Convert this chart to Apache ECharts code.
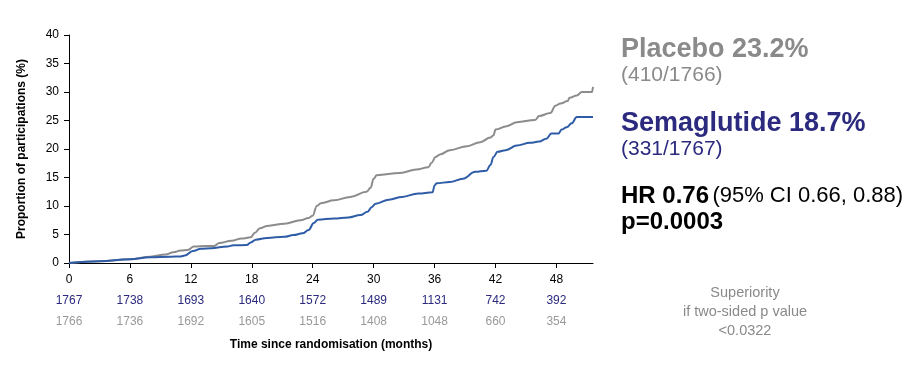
<!DOCTYPE html>
<html>
<head>
<meta charset="utf-8">
<script src="https://cdn.jsdelivr.net/npm/echarts@6/dist/echarts.min.js"></script>
<style>
  html, body { margin: 0; padding: 0; background: #fff; }
  #chart { width: 922px; height: 378px; }
</style>
</head>
<body>
<div id="chart"></div>
<script>
// ---- Data ----
var tickMonths = [0, 6, 12, 18, 24, 30, 36, 42, 48];
var semaAtRisk = [1767, 1738, 1693, 1640, 1572, 1489, 1131, 742, 392];
var placeboAtRisk = [1766, 1736, 1692, 1605, 1516, 1408, 1048, 660, 354];

var placeboMonths = [0, 3, 6, 8, 9.5, 10.3, 11, 11.7, 12.3, 13.5, 14.3, 14.8, 16, 17, 17.9, 18.3, 18.8, 19.5, 21.2, 22.8, 23.6, 24.0, 24.4, 24.8, 26.1, 27.7, 29.3, 29.7, 30.0, 30.3, 32.6, 34.2, 35.4, 35.7, 36.1, 36.6, 37.5, 39.2, 40.5, 41.5, 41.8, 42.0, 43.1, 44.1, 45.9, 46.3, 47.4, 47.9, 48.4, 49.1, 49.3, 50.0, 50.5, 51.5, 51.6];
var placeboValues = [0, 0.3, 0.65, 1.1, 1.5, 1.9, 2.2, 2.3, 2.9, 3.0, 3.0, 3.5, 3.9, 4.3, 4.5, 5.3, 6.1, 6.5, 6.9, 7.5, 7.9, 8.3, 10.0, 10.5, 11.0, 11.6, 12.5, 13.2, 14.8, 15.4, 15.8, 16.4, 16.8, 17.6, 18.6, 19.1, 19.8, 20.5, 21.2, 22.0, 22.4, 23.4, 24.0, 24.7, 25.1, 25.8, 26.3, 27.6, 28.0, 28.4, 29.0, 29.4, 30.0, 30.0, 30.9];

var semaMonths = [0, 3, 6, 8, 10, 11, 11.4, 12.2, 13, 14, 15.6, 16.2, 17.5, 17.9, 18.4, 19.5, 21.2, 22.1, 23.0, 23.6, 24.1, 24.5, 26.1, 27.5, 28.7, 29.4, 29.8, 30.2, 31.5, 32.8, 34.4, 35.8, 36.0, 36.2, 37.5, 38.8, 40.0, 41.1, 41.5, 41.8, 42.2, 43.0, 44.1, 45.4, 46.3, 47.0, 47.5, 48.2, 48.5, 49.0, 49.5, 50.0, 51.6];
var semaValues = [0, 0.3, 0.65, 1.0, 1.1, 1.15, 1.3, 2.1, 2.5, 2.6, 2.9, 3.1, 3.15, 3.6, 4.1, 4.4, 4.6, 4.9, 5.2, 5.8, 7.0, 7.6, 7.8, 8.0, 8.4, 9.0, 9.8, 10.4, 11.1, 11.6, 12.2, 12.4, 13.6, 14.0, 14.2, 14.8, 16.0, 16.2, 17.2, 18.6, 19.5, 19.8, 20.6, 21.1, 21.3, 21.8, 22.7, 22.7, 23.4, 23.8, 24.5, 25.6, 25.6];

function pairs(xs, ys) { return xs.map(function (x, i) { return [x, ys[i]]; }); }

var FONT = '"Liberation Sans", Arial, Helvetica, sans-serif';
var GRAY = '#8c8c8c';
var BLUE = '#2f5ca6';
var NAVY = '#2b2a7e';
var TEXTGRAY = '#8a8a8a';

var chart = echarts.init(document.getElementById('chart'), null, { renderer: 'canvas' });

chart.setOption({
  backgroundColor: '#ffffff',
  animation: false,
  textStyle: { fontFamily: FONT },
  grid: { left: 69, right: 329, top: 35, bottom: 115, containLabel: false },
  xAxis: {
    type: 'value',
    min: 0,
    max: 51.6,
    interval: 6,
    name: 'Time since randomisation (months)',
    nameLocation: 'middle',
    nameGap: 76,
    nameTextStyle: { fontFamily: FONT, fontSize: 12, fontWeight: 'bold', color: '#000' },
    axisLine: { show: true, onZero: false, lineStyle: { color: '#000', width: 1 } },
    axisTick: { show: true, length: 5, lineStyle: { color: '#000' }, customValues: tickMonths },
    splitLine: { show: false },
    axisLabel: {
      customValues: tickMonths,
      margin: 6,
      fontFamily: FONT,
      formatter: function (v) {
        var i = tickMonths.indexOf(Math.round(v));
        if (i < 0) return '';
        return '{t|' + tickMonths[i] + '}\n{s|' + semaAtRisk[i] + '}\n{p|' + placeboAtRisk[i] + '}';
      },
      rich: {
        t: { fontSize: 12, color: '#000', lineHeight: 21, fontFamily: FONT },
        s: { fontSize: 12, color: NAVY, lineHeight: 21, fontFamily: FONT },
        p: { fontSize: 12, color: '#999999', lineHeight: 21, fontFamily: FONT }
      }
    }
  },
  yAxis: {
    type: 'value',
    min: 0,
    max: 40,
    interval: 5,
    name: 'Proportion of participations (%)',
    nameLocation: 'middle',
    nameGap: 41,
    nameTextStyle: { fontFamily: FONT, fontSize: 12, fontWeight: 'bold', color: '#000' },
    axisLine: { show: true, lineStyle: { color: '#000', width: 1 } },
    axisTick: { show: true, length: 5, lineStyle: { color: '#000' } },
    splitLine: { show: false },
    axisLabel: { margin: 10, fontSize: 12, color: '#000', fontFamily: FONT }
  },
  series: [
    {
      name: 'Placebo',
      type: 'line',
      data: pairs(placeboMonths, placeboValues),
      showSymbol: false,
      smooth: 0.4,
      smoothMonotone: 'x',
      lineStyle: { color: GRAY, width: 2 },
      itemStyle: { color: GRAY },
      z: 2
    },
    {
      name: 'Semaglutide',
      type: 'line',
      data: pairs(semaMonths, semaValues),
      showSymbol: false,
      smooth: 0.4,
      smoothMonotone: 'x',
      lineStyle: { color: BLUE, width: 2 },
      itemStyle: { color: BLUE },
      z: 3
    }
  ],
  graphic: [
    { type: 'text', x: 621, y: 36, style: { text: 'Placebo 23.2%', font: 'bold 27px ' + FONT, fill: TEXTGRAY, verticalAlign: 'top' } },
    { type: 'text', x: 621, y: 65, style: { text: '(410/1766)', font: '21px ' + FONT, fill: TEXTGRAY, verticalAlign: 'top' } },
    { type: 'text', x: 621, y: 110, style: { text: 'Semaglutide 18.7%', font: 'bold 27px ' + FONT, fill: NAVY, verticalAlign: 'top' } },
    { type: 'text', x: 621, y: 139, style: { text: '(331/1767)', font: '21px ' + FONT, fill: NAVY, verticalAlign: 'top' } },
    { type: 'text', x: 621, y: 184, style: {
        text: '{b|HR 0.76} {r|(95% CI 0.66, 0.88)}',
        verticalAlign: 'top',
        rich: {
          b: { font: 'bold 24px ' + FONT, fill: '#000' },
          r: { font: '22px ' + FONT, fill: '#000' }
        }
    } },
    { type: 'text', x: 621, y: 210, style: { text: 'p=0.0003', font: 'bold 24px ' + FONT, fill: '#000', verticalAlign: 'top' } },
    { type: 'text', x: 745, y: 283, style: {
        text: 'Superiority\nif two-sided p value\n<0.0322',
        font: '14.5px ' + FONT, fill: TEXTGRAY, align: 'center', verticalAlign: 'top', lineHeight: 19
    } }
  ]
});
</script>
</body>
</html>
